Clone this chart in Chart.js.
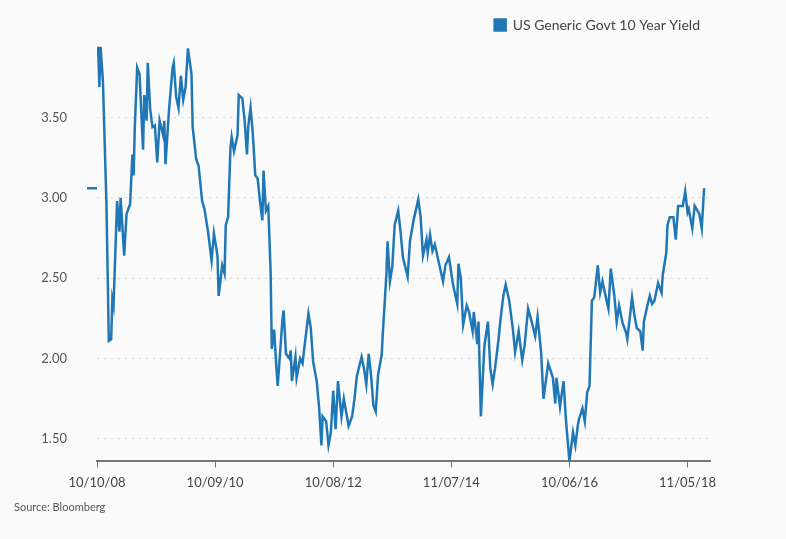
<!DOCTYPE html>
<html>
<head>
<meta charset="utf-8">
<script src="https://cdn.jsdelivr.net/npm/chart.js@4"></script>
<style>
  html, body { margin: 0; padding: 0; background: #fafafa; }
  canvas { display: block; }
</style>
</head>
<body>
<canvas id="yieldChart" width="786" height="539"></canvas>
<script>
// weeks since 10/10/08
const weeks = [0,1,2,3,5,8,9,10,12,13,14,17,19,20,23,25,28,30,31,32,34,36,39,40,42,43,45,47,49,51,53,56,57,58,61,64,65,67,69,71,73,75,77,80,81,84,86,89,91,94,97,99,102,103,106,108,109,111,113,114,116,119,120,123,125,127,128,130,132,134,136,138,140,141,143,145,147,148,150,152,153,157,158,160,163,164,165,168,169,172,174,179,181,183,186,188,190,191,194,196,198,200,202,204,207,209,213,216,218,220,224,226,228,230,232,234,236,238,241,242,245,246,248,250,252,255,257,259,263,265,268,272,274,276,279,280,282,284,286,289,293,295,298,301,302,305,306,308,310,313,315,318,319,322,323,325,328,331,333,335,337,340,341,344,346,349,352,354,357,360,362,365,368,371,373,376,378,382,386,388,389,392,395,397,400,403,405,407,408,411,413,415,417,419,421,424,426,428,430,433,435,438,440,442,445,448,449,453,455,457,460,462,463,466,468,470,472,475,478,479,482,483,485,488,490,492,496,498,500,501,504,506,510,512,514,517];
const yields = [3.88,3.94,3.69,3.94,3.73,2.96,2.54,2.11,2.12,2.37,2.33,2.98,2.79,3.00,2.64,2.90,2.96,3.27,3.14,3.44,3.81,3.77,3.30,3.64,3.48,3.84,3.55,3.44,3.45,3.22,3.48,3.39,3.48,3.21,3.55,3.81,3.84,3.63,3.56,3.76,3.61,3.69,3.93,3.77,3.44,3.24,3.20,2.98,2.93,2.79,2.61,2.78,2.64,2.39,2.58,2.53,2.83,2.88,3.31,3.38,3.29,3.39,3.64,3.62,3.48,3.27,3.44,3.56,3.39,3.14,3.12,2.98,2.86,3.17,2.92,2.95,2.54,2.06,2.18,1.93,1.83,2.24,2.30,2.03,2.00,2.05,1.86,2.01,1.88,2.00,1.97,2.28,2.19,1.98,1.86,1.70,1.46,1.64,1.61,1.46,1.54,1.80,1.56,1.86,1.64,1.75,1.58,1.64,1.75,1.89,2.01,1.94,1.84,2.03,1.90,1.71,1.67,1.90,2.02,2.16,2.52,2.73,2.48,2.57,2.83,2.92,2.79,2.63,2.51,2.73,2.86,2.99,2.88,2.64,2.74,2.66,2.77,2.67,2.71,2.61,2.48,2.58,2.63,2.48,2.44,2.34,2.59,2.50,2.21,2.33,2.29,2.17,2.29,2.09,2.23,1.64,2.08,2.23,1.94,1.84,1.94,2.12,2.20,2.39,2.46,2.36,2.19,2.04,2.17,1.99,2.08,2.31,2.23,2.14,2.26,2.04,1.75,1.97,1.88,1.72,1.88,1.70,1.86,1.62,1.36,1.54,1.46,1.58,1.62,1.69,1.61,1.79,1.83,2.36,2.38,2.58,2.41,2.48,2.41,2.31,2.56,2.39,2.23,2.33,2.22,2.16,2.12,2.38,2.27,2.19,2.17,2.05,2.23,2.33,2.39,2.34,2.36,2.47,2.41,2.52,2.66,2.83,2.88,2.88,2.74,2.95,2.95,3.04,2.91,2.93,2.81,2.95,2.90,2.81,3.06];
const tickWeeks = [0, 100, 200, 300, 400, 500];
const tickLabels = ["10/10/08", "10/09/10", "10/08/12", "11/07/14", "10/06/16", "11/05/18"];
const yTicks = [1.5, 2.0, 2.5, 3.0, 3.5];

const blue = "#2077b6";

const extras = {
    id: "extras",
    afterDraw(chart) {
        const ctx = chart.ctx;
        const y = chart.scales.y.getPixelForValue(yields[yields.length - 1]);
        ctx.save();
        // last value marker
        ctx.strokeStyle = blue;
        ctx.lineWidth = 2.5;
        ctx.beginPath();
        ctx.moveTo(87, y);
        ctx.lineTo(97, y);
        ctx.stroke();
        // source
        ctx.fillStyle = "#555";
        ctx.font = "11px Lato";
        ctx.textBaseline = "middle";
        ctx.fillText("Source: Bloomberg", 14, 507);
        ctx.restore();
    }
};

new Chart(document.getElementById("yieldChart"), {
    type: "line",
    data: {
        datasets: [{
            label: "US Generic Govt 10 Year Yield",
            data: weeks.map((w, i) => ({ x: w, y: yields[i] })),
            borderColor: blue,
            backgroundColor: blue,
            borderWidth: 2.5,
            pointRadius: 0,
            tension: 0,
        }],
    },
    options: {
        responsive: false,
        animation: false,
        devicePixelRatio: 1,
        layout: { padding: { top: 8, right: 76, bottom: 40, left: 0 } },
        plugins: {
            legend: {
                align: "end",
                labels: {
                    boxWidth: 11,
                    boxHeight: 11,
                    color: "#444",
                    font: { family: "Lato", size: 14 },
                    padding: 10,
                },
            },
            tooltip: { enabled: false },
        },
        scales: {
            x: {
                type: "linear",
                min: 0,
                max: 519,
                afterBuildTicks(axis) { axis.ticks = tickWeeks.map(v => ({ value: v })); },
                ticks: {
                    callback: (v) => tickLabels[tickWeeks.indexOf(v)],
                    color: "#444",
                    font: { family: "Lato", size: 13 },
                    maxRotation: 0,
                    padding: 8,
                },
                grid: { display: true, drawOnChartArea: false, drawTicks: true, tickLength: 6, color: "#777" },
                border: { display: true, color: "#777", width: 2 },
            },
            y: {
                min: 1.36,
                max: 3.97,
                afterBuildTicks(axis) { axis.ticks = yTicks.map(v => ({ value: v })); },
                afterFit(axis) { axis.width = 97; },
                ticks: {
                    callback: (v) => v.toFixed(2),
                    color: "#555",
                    font: { family: "Lato", size: 13 },
                    padding: 30,
                },
                grid: { color: "#d6d6d6", drawTicks: false, lineWidth: 1 },
                border: { display: false, dash: [2, 5] },
            },
        },
    },
    plugins: [extras],
});
</script>
</body>
</html>
